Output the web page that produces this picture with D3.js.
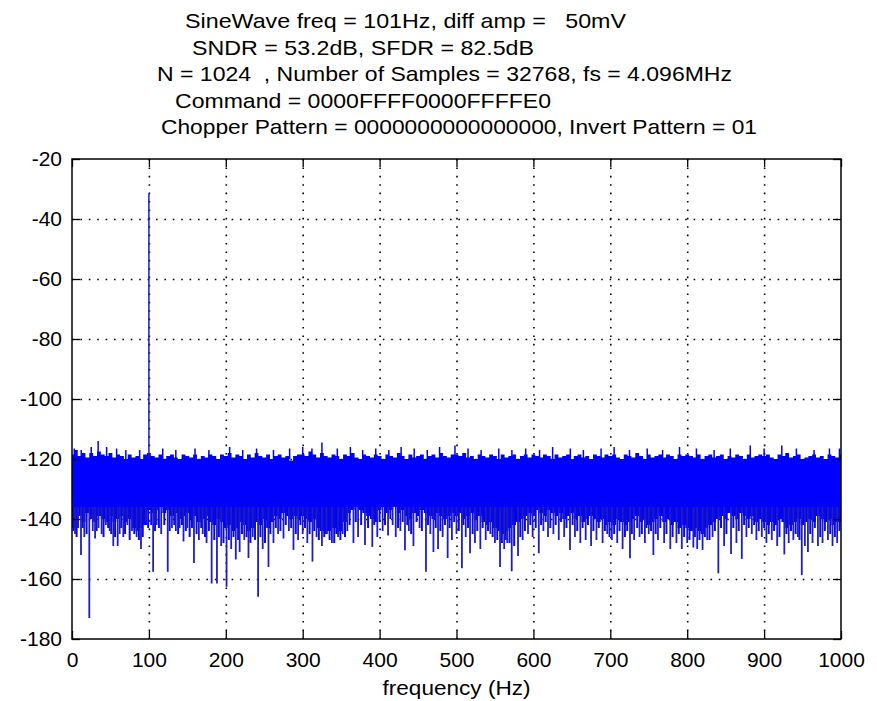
<!DOCTYPE html>
<html>
<head>
<meta charset="utf-8">
<script src="https://cdn.jsdelivr.net/npm/d3@7"></script>
<style>
  body { margin: 0; background: #fff; }
  svg { display: block; font-family: "Liberation Sans", Arial, sans-serif; }
</style>
</head>
<body>
<svg id="chart"></svg>
<script>
// title lines (text, left x, width as measured on the picture)
var titleLines = [
  ['SineWave freq = 101Hz, diff amp =   50mV', 185, 441],
  ['SNDR = 53.2dB, SFDR = 82.5dB', 192, 342],
  ['N = 1024  , Number of Samples = 32768, fs = 4.096MHz', 157, 575],
  ['Command = 0000FFFF0000FFFFE0', 175, 376],
  ['Chopper Pattern = 0000000000000000, Invert Pattern = 01', 161, 596]
];

var xTicks = [0, 100, 200, 300, 400, 500, 600, 700, 800, 900, 1000];
var yTicks = [-180, -160, -140, -120, -100, -80, -60, -40, -20];

// noise floor, read every 5 Hz from 0 to 1000 Hz
var bandStep = 5;
var bandTop = [
  -118.5,-117,-119,-118,-119.5,-118,-119,-117.5,-118.5,-119,-118,-119.5,-118.5,-119,-120,-118.5,-119.5,-119,-120,-118.5,
  -118,-119,-119.5,-118.5,-120,-119,-118.5,-119.5,-120,-118.5,-119,-119.5,-118.5,-120,-119,-119.5,-118.5,-119,-120,-118.5,
  -119,-118,-119.5,-118.5,-119,-120,-118.5,-119.5,-118,-119,-119.5,-118.5,-120,-119,-118.5,-119.5,-119,-120.5,-119,-118.5,
  -118.5,-119,-117.5,-118.5,-119.5,-118,-119,-119.5,-118.5,-119,-120,-118.5,-119,-118,-119.5,-120,-118.5,-119,-119.5,-118.5,
  -119,-120,-118.5,-119,-119.5,-118,-119,-120,-118.5,-119.5,-119,-118.5,-120,-119,-118.5,-119.5,-118,-119,-119.5,-118.5,
  -118.5,-119,-118,-119.5,-119,-120,-118.5,-119,-119.5,-118.5,-119,-120,-118.5,-119.5,-119,-118.5,-120,-119,-118.5,-119.5,
  -118.5,-119,-119.5,-118.5,-119,-120,-118.5,-119.5,-119,-118.5,-120,-119,-118.5,-119.5,-119,-120,-118.5,-119,-119.5,-118.5,
  -119,-118.5,-119.5,-120,-118.5,-119,-119.5,-118,-119,-120,-118.5,-119.5,-119,-118.5,-119.5,-118.5,-119,-120,-118.5,-119,
  -118.5,-119,-119.5,-118.5,-120,-119,-118.5,-119.5,-119,-118.5,-120,-119,-119.5,-118.5,-119,-120,-118.5,-119.5,-119,-118.5,
  -119,-118.5,-119.5,-120,-118.5,-119,-118,-119.5,-119,-118.5,-120,-119.5,-119,-118.5,-119.5,-119,-120,-118.5,-119,-119.5,
  -118.5
];
var bandBottom = [
  -143,-143,-139,-141,-138,-140,-141,-139,-140,-141,-139,-141,-140,-139,-141,-140,-143,-144,-143,-142,
  -137,-138,-137,-136,-138,-137,-139,-138,-140,-139,-138,-140,-139,-141,-140,-139,-141,-142,-140,-141,
  -143,-142,-144,-143,-141,-142,-144,-143,-141,-142,-140,-143,-141,-139,-140,-138,-139,-140,-139,-140,
  -139,-140,-141,-140,-143,-144,-145,-144,-143,-145,-144,-141,-138,-137,-136,-137,-138,-139,-140,-141,
  -137,-136,-138,-137,-136,-138,-137,-139,-140,-138,-139,-137,-138,-139,-140,-138,-139,-140,-139,-138,
  -139,-138,-140,-139,-138,-140,-139,-141,-142,-141,-143,-144,-145,-144,-143,-142,-141,-140,-139,-138,
  -139,-137,-138,-139,-137,-138,-139,-138,-140,-139,-138,-140,-139,-141,-140,-139,-140,-141,-140,-142,
  -141,-142,-140,-141,-142,-141,-140,-139,-141,-140,-142,-141,-140,-139,-141,-140,-142,-141,-143,-142,
  -143,-144,-143,-144,-145,-143,-142,-141,-140,-139,-140,-138,-139,-140,-138,-139,-140,-139,-141,-140,
  -141,-142,-141,-142,-140,-141,-143,-142,-141,-140,-142,-141,-140,-141,-139,-140,-141,-140,-142,-141,
  -141
];

// single bins poking above the floor [Hz, dB]
var upSpikes = [
  [3,-116.5],[12,-117],[25,-116],[34,-114],[45,-116],[58,-116.5],[70,-117],[88,-117],[118,-116.5],[135,-117],
  [160,-116.5],[178,-117],[205,-116],[222,-117],[240,-116.5],[262,-117],[283,-116.5],[300,-116],[312,-116.5],[325,-114.5],
  [345,-116.5],[362,-116],[378,-117],[395,-116.5],[412,-117],[428,-116],[445,-116.5],[462,-117],[478,-116],[498,-115.5],
  [515,-116.5],[532,-117],[555,-116.5],[572,-117],[590,-116.5],[608,-117],[625,-116],[648,-116.5],[665,-117],[688,-116.5],
  [705,-116],[725,-117],[748,-116.5],[768,-117],[790,-116],[812,-116.5],[835,-117],[856,-116.5],[882,-115.5],[900,-116.5],
  [923,-115.5],[942,-116.5],[965,-117],[985,-116.5],[998,-116.5]
];

// single bins dropping below the floor [Hz, dB]
var downSpikes = [
  [4,-145],[8,-143],[11.7,-152],[16,-146],[22.5,-173],[27,-144],[30,-146.5],[34.5,-143],[38.5,-145],[44,-142],
  [49,-144],[53.7,-149],[59.4,-149],[62,-145],[66.7,-146],[72,-142],[78,-144],[84,-146],[89.7,-150],[96,-141],
  [105.5,-157.6],[110,-142],[116,-145],[124.5,-157.6],[130,-143],[135,-144],[140,-143],[145,-147.5],[150,-143],[158.6,-154.7],
  [165,-147],[170,-145],[175,-148],[181.6,-161.5],[188.5,-161.5],[194,-149],[201,-162.6],[207,-150],[213,-153.5],[218,-151],
  [224,-147],[229.5,-153],[235,-146],[242,-165.9],[248,-150],[255.5,-156],[262,-148],[268,-145],[275,-146.5],[282,-144],
  [288,-150.3],[294,-147],[300,-145],[306,-148],[312.7,-154.2],[318,-146],[325,-149],[331,-145],[338,-148],[346,-146],
  [352,-145],[358,-144],[366,-148],[372,-146],[381,-148.7],[390.5,-149.3],[397,-146],[404,-144],[411,-145.5],[417,-142],
  [421,-146],[427,-144],[433,-150.4],[438,-144],[444,-149],[452,-143],[460.3,-157.6],[466,-145],[470,-151],[476,-150],
  [482,-146],[488.5,-153],[494,-147],[500,-145],[507,-156.4],[512,-146],[517.6,-151.4],[524,-148],[531,-150],[538,-147],
  [544,-145],[550,-148],[556.6,-156],[562,-150],[566,-148],[571.8,-157.4],[580,-152.3],[586,-147],[593,-145],[599,-146],
  [607,-151.4],[613,-144],[619,-146],[626,-145],[633,-147],[640,-146],[647.6,-150.3],[654,-146],[661,-148],[668,-147],
  [675,-149],[682,-147],[690,-148],[696,-145],[702,-147],[709,-148],[716,-150],[725.6,-153.1],[731,-147],[738,-146],
  [745,-148],[750,-145],[756,-152],[762,-147],[770,-148],[778,-150],[786,-148],[793,-150],[800,-148],[808,-149.5],
  [813,-150],[820,-150.3],[826,-147],[833,-146],[840.5,-158.1],[848,-149],[857,-151.7],[864,-148],[871,-153.3],[877,-146],
  [884,-145],[890,-147],[897,-146],[903,-148],[910,-147],[917,-149],[926.3,-151.8],[932,-148],[938,-147],[944,-146],
  [949,-158.7],[953,-149],[957,-151],[963,-148],[970,-149],[976,-148],[983,-147],[989,-149],[995,-148]
];

// shorter drops that make the ragged lower edge [Hz, dB]
var smallDrops = [
  [2,-144],[6,-146],[14,-143],[19,-145],[32,-144],[41,-146],[47,-143],[51,-145],[56,-146],[64,-143],
  [69,-145],[75,-147],[81,-145],[87,-147],[92,-146],[99,-143],[103,-142],[108,-144],[113,-143],[120,-142],
  [127,-144],[133,-142],[138,-145],[143,-142],[148,-144],[153,-146],[156,-143],[162,-145],[168,-143],[173,-146],
  [178,-144],[185,-147],[191,-146],[197,-148],[204,-147],[210,-146],[216,-147],[221,-145],[227,-146],[232,-148],
  [238,-147],[245,-146],[251,-148],[258,-145],[265,-143],[271,-144],[278,-142],[285,-143],[291,-145],[297,-142],
  [303,-143],[309,-145],[315,-144],[321,-147],[328,-146],[335,-147],[341,-148],[349,-147],[355,-146],[361,-142],
  [369,-141],[376,-142],[385,-143],[393,-142],[400,-141],[407,-142],[414,-140],[424,-143],[430,-141],[436,-142],
  [441,-145],[448,-141],[455,-144],[463,-142],[473,-143],[479,-144],[485,-142],[491,-143],[497,-141],[503,-144],
  [509,-142],[515,-143],[521,-145],[527,-144],[534,-143],[541,-144],[547,-146],[553,-147],[559,-148],[564,-147],
  [569,-148],[575,-149],[583,-146],[589,-144],[596,-142],[603,-143],[610,-142],[616,-141],[622,-143],[629,-142],
  [636,-141],[643,-143],[651,-142],[657,-144],[664,-143],[671,-142],[678,-144],[685,-143],[693,-144],[699,-146],
  [705,-145],[712,-144],[719,-146],[722,-144],[728,-145],[735,-143],[741,-145],[747,-143],[753,-144],[759,-145],
  [765,-143],[773,-145],[781,-146],[789,-145],[796,-146],[803,-147],[810,-146],[816,-147],[823,-146],[829,-147],
  [836,-144],[844,-143],[851,-145],[860,-143],[867,-144],[874,-142],[880,-143],[887,-142],[893,-144],[900,-143],
  [906,-145],[913,-144],[920,-146],[929,-145],[935,-144],[941,-145],[946,-147],[960,-145],[966,-143],[973,-146],
  [979,-144],[986,-145],[992,-146],[998,-144]
];

// the test tone
var toneFreq = 100;
var toneLevel = -31.5;

var width = 877;
var height = 701;
var plotLeft = 72, plotRight = 841, plotTop = 159, plotBottom = 639;
var fontSize = 21;

var svg = d3.select('#chart')
  .attr('width', width)
  .attr('height', height);

svg.append('rect')
  .attr('width', width)
  .attr('height', height)
  .attr('fill', '#fff');

var xScale = d3.scaleLinear().domain([0, 1000]).range([plotLeft, plotRight]);
var yScale = d3.scaleLinear().domain([-180, -20]).range([plotBottom, plotTop]);

// grid
var grid = svg.append('g')
  .attr('stroke', '#000')
  .attr('stroke-width', 1.6)
  .attr('stroke-dasharray', '1.6 6.8');

grid.selectAll('.gx')
  .data(xTicks.slice(1, -1))
  .enter()
  .append('line')
  .attr('x1', d => xScale(d) + 0.5)
  .attr('x2', d => xScale(d) + 0.5)
  .attr('y1', plotTop)
  .attr('y2', plotBottom);

grid.selectAll('.gy')
  .data(yTicks.slice(1, -1))
  .enter()
  .append('line')
  .attr('x1', plotLeft)
  .attr('x2', plotRight)
  .attr('y1', d => yScale(d) + 0.5)
  .attr('y2', d => yScale(d) + 0.5);

// data
var plot = svg.append('g');

var bandData = bandTop.map((t, i) => ({f: i * bandStep, top: t, bot: bandBottom[i]}));

var area = d3.area()
  .curve(d3.curveStep)
  .x(d => xScale(d.f))
  .y0(d => yScale(d.bot))
  .y1(d => yScale(d.top));

plot.append('path')
  .datum(bandData)
  .attr('d', area)
  .attr('fill', '#0000ff');

plot.selectAll('.up')
  .data(upSpikes)
  .enter()
  .append('line')
  .attr('x1', d => xScale(d[0]))
  .attr('x2', d => xScale(d[0]))
  .attr('y1', d => yScale(-120))
  .attr('y2', d => yScale(d[1]))
  .attr('stroke', '#0000ff')
  .attr('stroke-width', 1.5);

plot.selectAll('.small')
  .data(smallDrops)
  .enter()
  .append('line')
  .attr('x1', d => xScale(d[0]))
  .attr('x2', d => xScale(d[0]))
  .attr('y1', d => yScale(-136))
  .attr('y2', d => yScale(d[1]))
  .attr('stroke', '#0a0ae0')
  .attr('stroke-width', 2);

plot.selectAll('.down')
  .data(downSpikes)
  .enter()
  .append('line')
  .attr('x1', d => xScale(d[0]))
  .attr('x2', d => xScale(d[0]))
  .attr('y1', d => yScale(-136))
  .attr('y2', d => yScale(d[1]))
  .attr('stroke', '#1e1ec0')
  .attr('stroke-width', 1.8);

plot.append('line')
  .attr('x1', xScale(toneFreq))
  .attr('x2', xScale(toneFreq))
  .attr('y1', yScale(-120))
  .attr('y2', yScale(toneLevel))
  .attr('stroke', '#1e1eb4')
  .attr('stroke-width', 1.5);

// axes, ticks inward on all four sides
var fmt = d => String(d);

var xAxis = svg.append('g')
  .attr('transform', 'translate(0,' + plotBottom + ')')
  .call(d3.axisBottom(xScale).tickValues(xTicks).tickSize(-8).tickPadding(12).tickFormat(fmt));

var yAxis = svg.append('g')
  .attr('transform', 'translate(' + plotLeft + ',0)')
  .call(d3.axisLeft(yScale).tickValues(yTicks).tickSize(-8).tickPadding(10).tickFormat(fmt));

svg.append('g')
  .attr('transform', 'translate(0,' + plotTop + ')')
  .call(d3.axisTop(xScale).tickValues(xTicks).tickSize(-8).tickFormat(''));

svg.append('g')
  .attr('transform', 'translate(' + plotRight + ',0)')
  .call(d3.axisRight(yScale).tickValues(yTicks).tickSize(-8).tickFormat(''));

svg.selectAll('.domain').remove();
svg.selectAll('.tick line').attr('stroke', '#000').attr('stroke-width', 1.3);
svg.selectAll('.tick text')
  .attr('fill', '#000')
  .style('font-size', fontSize + 'px')
  .style('font-family', '"Liberation Sans", Arial, sans-serif');

xAxis.selectAll('.tick text').attr('dy', '0.75em');

svg.append('rect')
  .attr('x', plotLeft)
  .attr('y', plotTop)
  .attr('width', plotRight - plotLeft)
  .attr('height', plotBottom - plotTop)
  .attr('fill', 'none')
  .attr('stroke', '#000')
  .attr('stroke-width', 1.5);

// x label
svg.append('text')
  .attr('x', (plotLeft + plotRight) / 2)
  .attr('y', 695)
  .attr('text-anchor', 'middle')
  .attr('textLength', 148)
  .attr('lengthAdjust', 'spacingAndGlyphs')
  .style('font-size', fontSize + 'px')
  .text('frequency (Hz)');

// title
svg.append('g')
  .selectAll('text')
  .data(titleLines)
  .enter()
  .append('text')
  .attr('x', d => d[1])
  .attr('y', (d, i) => 28 + i * 26.5)
  .attr('textLength', d => d[2])
  .attr('lengthAdjust', 'spacingAndGlyphs')
  .style('font-size', fontSize + 'px')
  .style('white-space', 'pre')
  .attr('xml:space', 'preserve')
  .text(d => d[0]);
</script>
</body>
</html>
